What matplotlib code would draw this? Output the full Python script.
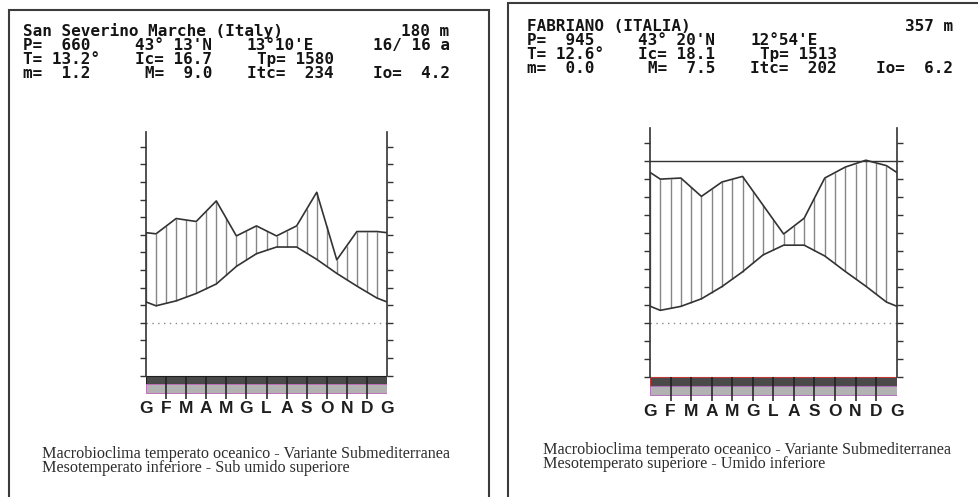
import numpy as np
import matplotlib.pyplot as plt
from matplotlib.patches import Rectangle

W, H = 979, 497

months = ['G', 'F', 'M', 'A', 'M', 'G', 'L', 'A', 'S', 'O', 'N', 'D', 'G']

# San Severino Marche: monthly rainfall (mm) and mean temperature (°C)
ssm_prec = [50.5, 59.2, 57.5, 69.2, 49.3, 55.0, 49.3, 55.0, 74.1, 35.7, 51.8, 51.8]
ssm_temp = [4.8, 6.2, 8.3, 11.0, 16.0, 19.6, 21.5, 21.5, 18.0, 14.0, 10.4, 7.0]

# Fabriano
fab_prec = [80.1, 80.7, 70.5, 78.5, 81.6, 65.6, 49.6, 58.4, 80.7, 86.8, 90.6, 87.6]
fab_temp = [3.6, 4.7, 6.8, 10.2, 14.3, 19.0, 21.7, 21.7, 18.7, 14.4, 10.3, 5.9]

# header rows: (column, text) on a 42-column grid
ssm_header = [
    [(0, 'San Severino Marche (Italy)'), (37, '180 m')],
    [(0, 'P=  660'), (11, "43° 13'N"), (22, "13°10'E"), (34, '16/ 16 a')],
    [(0, 'T= 13.2°'), (11, 'Ic= 16.7'), (23, 'Tp= 1580')],
    [(0, 'm=  1.2'), (12, 'M=  9.0'), (22, 'Itc=  234'), (34, 'Io=  4.2')],
]
fab_header = [
    [(0, 'FABRIANO (ITALIA)'), (37, '357 m')],
    [(0, 'P=  945'), (11, "43° 20'N"), (22, "12°54'E")],
    [(0, 'T= 12.6°'), (11, 'Ic= 18.1'), (23, 'Tp= 1513')],
    [(0, 'm=  0.0'), (12, 'M=  7.5'), (22, 'Itc=  202'), (34, 'Io=  6.2')],
]

ssm_caption = ['Macrobioclima temperato oceanico - Variante Submediterranea',
               'Mesotemperato inferiore - Sub umido superiore']
fab_caption = ['Macrobioclima temperato oceanico - Variante Submediterranea',
               'Mesotemperato superiore - Umido inferiore']

LO, HI = -22, 56
INK = '#333333'

fig = plt.figure(figsize=(W / 100, H / 100), dpi=100)
fig.patch.set_facecolor('white')


def px(x, y):
    return x / W, 1 - y / H


def add_diagram(x0, x1, zero_y, ppu):
    top = zero_y - HI * ppu
    bot = zero_y - LO * ppu
    ax = fig.add_axes([x0 / W, 1 - bot / H, (x1 - x0) / W, (bot - top) / H])
    ax.set_xlim(0, 12)
    ax.set_ylim(LO, HI)
    return ax


def draw_diagram(ax, prec, temp, edge_dark, edge_light, cap=None):
    # monthly values sit mid-month; the ends close the year (Dec -> Jan)
    p = np.array(prec) / 2.0
    t = np.array(temp)
    xs = np.concatenate([[0], np.arange(12) + 0.5, [12]])
    ps = np.concatenate([[(p[0] + p[-1]) / 2], p, [(p[0] + p[-1]) / 2]])
    ts = np.concatenate([[(t[0] + t[-1]) / 2], t, [(t[0] + t[-1]) / 2]])

    hx = np.arange(0, 12.01, 0.5)
    ax.vlines(hx, np.interp(hx, xs, ts), np.interp(hx, xs, ps),
              color='#858585', lw=1.0)
    ax.plot(xs, ps, color=INK, lw=1.2)
    ax.plot(xs, ts, color=INK, lw=1.2)

    ax.axhline(0, color='#8a8a8a', lw=1.0, ls=(0, (1, 3.2)))
    if cap is not None:
        ax.axhline(cap, color=INK, lw=1.0)

    # frost bands under the baseline
    ax.add_patch(Rectangle((0, -17.4), 12, 2.4, fc='#4a4a4a', ec=edge_dark, lw=0.8))
    ax.add_patch(Rectangle((0, -19.9), 12, 2.4, fc='#b2b2b2', ec=edge_light, lw=0.7))
    ax.vlines(range(1, 12), -21.6, -15, color='#1e1e1e', lw=1.1)

    for s in ('top', 'bottom'):
        ax.spines[s].set_visible(False)
    for s in ('left', 'right'):
        ax.spines[s].set_bounds(-15, 54.2)
        ax.spines[s].set_color(INK)
        ax.spines[s].set_linewidth(1.2)
    ax.set_yticks(np.arange(-15, 51, 5))
    ax.tick_params(axis='y', left=True, right=True, labelleft=False,
                   length=4.3, width=1.0, color=INK, direction='out')
    ax.set_xticks(range(13), months)
    ax.tick_params(axis='x', length=0, pad=0.8)
    for lab in ax.get_xticklabels():
        lab.set_fontfamily('Liberation Sans')
        lab.set_fontweight('bold')
        lab.set_fontsize(12.5)
        lab.set_color('#1e1e1e')


def draw_header(rows, x0, baselines, cw=10.15, ncol=42):
    for row, yb in zip(rows, baselines):
        for col, txt in row:
            if col + len(txt) == ncol:
                xa, ha = x0 + ncol * cw, 'right'
            else:
                xa, ha = x0 + col * cw, 'left'
            fig.text(*px(xa, yb), txt, ha=ha, va='baseline',
                     family='DejaVu Sans Mono', weight='bold', fontsize=11.5,
                     color='#141414')


def draw_caption(lines, x0, yb_last):
    # two-line caption, anchored on the baseline of its last line
    fig.text(*px(x0, yb_last), '\n'.join(lines), ha='left', va='baseline',
             family='Liberation Serif', fontsize=11.6, color='#2c2c2c',
             linespacing=0.86)


# panel frames
fig.add_artist(Rectangle((9 / W, -10 / H), 480 / W, (H - 10 + 10) / H,
                         transform=fig.transFigure, fill=False,
                         ec='#3c3c3c', lw=1.5))
fig.add_artist(Rectangle((507.5 / W, -10 / H), (W + 10 - 507.5) / W, (H - 3 + 10) / H,
                         transform=fig.transFigure, fill=False,
                         ec='#3c3c3c', lw=1.5))

ax1 = add_diagram(146, 387, 322.7, 3.52)
draw_diagram(ax1, ssm_prec, ssm_temp, '#1e1e1e', '#c070b8')

ax2 = add_diagram(650, 896.7, 323.3, 3.6)
draw_diagram(ax2, fab_prec, fab_temp, '#c03a3a', '#b070c0', cap=45)

draw_header(ssm_header, 23.3, [36, 50, 64.3, 78.3])
draw_header(fab_header, 526.7, [30.7, 45, 59.3, 73.3])

draw_caption(ssm_caption, 41.7, 472.3)
draw_caption(fab_caption, 543.3, 468.5)

fig.savefig('out.png', dpi=100)
